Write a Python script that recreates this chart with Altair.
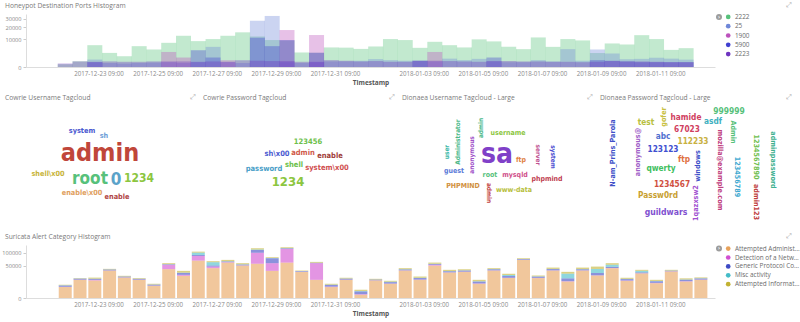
import altair as alt
import pandas as pd

# ---------------- data ----------------
ports = ["2222", "25", "1900", "5900", "2223"]
port_colors = ["#57c17b", "#6f87d8", "#bc52bc", "#3f3fd0", "#6e34c0"]
p2222 = [100, 420, 6100, 2550, 1490, 5570, 3930, 7490, 12500, 8590, 10000, 12500, 15400, 12000, 9300,
         9000, 2700, 2600, 4900, 4800, 4200, 5400, 10000, 9300, 4700, 8140, 6100, 4900, 9780, 8400,
         5200, 4080, 11200, 5200, 10000, 9060, 2500, 7100, 6500, 13000, 10000, 3760, 4550]
p25 = [0, 0, 710, 200, 150, 200, 250, 300, 200, 300, 5200, 300, 200, 27500, 33400,
       300, 200, 300, 400, 400, 500, 800, 600, 500, 500, 400, 900, 600, 850, 400,
       300, 300, 600, 400, 4080, 500, 3930, 2330, 770, 850, 1100, 900, 700]
p1900 = [0, 0, 0, 0, 0, 0, 0, 2900, 1150, 0, 0, 580, 0, 0, 0,
         17500, 0, 13100, 0, 0, 0, 0, 0, 0, 0, 2900, 0, 0, 0, 0,
         0, 0, 0, 0, 0, 0, 0, 0, 0, 0, 0, 0, 0]
p5900 = [0, 0, 300, 0, 0, 0, 0, 0, 0, 3600, 1150, 0, 0, 10900, 5570,
         9300, 0, 2600, 0, 0, 0, 0, 0, 0, 500, 0, 0, 0, 0, 1150,
         0, 0, 0, 0, 0, 0, 600, 500, 400, 300, 300, 300, 300]
p2223 = [150, 400, 350, 400, 350, 350, 400, 400, 400, 350, 400, 350, 580, 500, 450,
         450, 350, 350, 600, 500, 400, 450, 350, 350, 500, 500, 450, 400, 350, 450,
         450, 400, 400, 350, 350, 300, 350, 450, 400, 400, 350, 300, 300]

cats = ["Attempted Administrator Privilege Gain", "Detection of a Network Scan",
        "Generic Protocol Command Decode", "Misc activity", "Attempted Information Leak"]
cat_colors = ["#e7a15a", "#d14fd1", "#3d4ac4", "#44bcc8", "#c2b232"]
s_admin = [5800, 16000, 14900, 36500, 20300, 16000, 7250, 40300, 23800, 67700,
           43100, 60700, 50900, 56400, 35700, 60700, 33100, 16000, 5800, 16000,
           520, 15000, 9800, 36500, 16000, 50900, 31400, 33100, 9800, 36500,
           19200, 70300, 19200, 36500, 13200, 36500, 24500, 43100, 14300, 29300,
           10600, 34100, 13200, 16000]
s_scan = [300, 300, 1100, 300, 300, 300, 200, 12800, 2200, 18000,
          4700, 1500, 800, 43200, 23000, 55700, 300, 42700, 500, 300,
          200, 200, 300, 500, 500, 2500, 500, 500, 500, 500,
          500, 500, 500, 500, 500, 500, 500, 500, 500, 500,
          500, 500, 500, 500]
s_proto = [1500, 1800, 1800, 2500, 1700, 1500, 1200, 1800, 4500, 4100,
           3500, 2500, 2500, 12100, 17900, 3000, 1600, 1200, 2000, 1800,
           1400, 1200, 2100, 2500, 2800, 2500, 2800, 3000, 2800, 3000,
           3500, 2500, 2500, 3500, 5000, 3000, 5300, 3500, 2500, 2000,
           2500, 1500, 2500, 2000]
s_misc = [300, 300, 300, 300, 200, 200, 200, 500, 600, 9800,
          10800, 800, 800, 2000, 1000, 800, 300, 300, 300, 300,
          300, 200, 700, 600, 500, 800, 500, 500, 500, 500,
          2500, 500, 500, 500, 10000, 500, 10500, 6500, 500, 4000,
          500, 500, 500, 500]
s_leak = [600, 800, 2000, 1500, 1300, 1200, 950, 3300, 4600, 4400,
          3500, 4800, 3700, 6050, 2900, 4400, 1200, 2900, 1200, 1400,
          880, 1200, 1400, 3000, 2500, 4000, 3200, 2900, 2400, 2600,
          2600, 2800, 1800, 3800, 4400, 4300, 7000, 5100, 2000, 2600,
          1900, 1800, 2000, 1500]

tick_dates = [(2017, 12, 23), (2017, 12, 25), (2017, 12, 27), (2017, 12, 29), (2017, 12, 31),
              (2018, 1, 3), (2018, 1, 5), (2018, 1, 7), (2018, 1, 9), (2018, 1, 11)]

# tag clouds: words, counts, colours, rotation, layout position (page pixels)
cu_words = ["admin", "root", "0", "1234", "system", "sh", "shell\\x00", "enable\\x00", "enable"]
cu_counts = [100, 68, 68, 48, 29, 29, 29, 29, 29]
cu_colors = ["#c0463a", "#57c17b", "#5ba3c9", "#8cc63f", "#4a58d0", "#6f9fd8", "#c8b43a", "#e0a060", "#b04444"]
cu_rot = [0, 0, 0, 0, 0, 0, 0, 0, 0]
cu_x = [100, 90, 116, 139, 82, 104, 48, 82, 117]
cu_y = [153, 179, 180, 178, 131, 136, 174, 193, 197]

cp_words = ["1234", "123456", "sh\\x00", "admin", "enable", "password", "shell", "system\\x00"]
cp_counts = [100, 58, 58, 58, 58, 58, 58, 58]
cp_colors = ["#8cc63f", "#6cc04a", "#4a5ad0", "#d05a4a", "#a0403a", "#4aa0c8", "#6cc04a", "#d05050"]
cp_rot = [0, 0, 0, 0, 0, 0, 0, 0]
cp_x = [288, 308, 277, 303, 330, 264, 294, 327]
cp_y = [182, 142, 154, 153, 156, 169, 165, 168]

du_words = ["sa", "user", "Administrator", "admin", "username", "anonymous", "guest", "root",
            "mysqld", "ftp", "server", "system", "phpmind", "PHPMIND", "admin ", "www-data"]
du_counts = [100, 23, 23, 23, 25, 23, 25, 25, 25, 25, 23, 23, 25, 25, 23, 25]
du_colors = ["#8040c8", "#3cb8a8", "#4cb888", "#4cb888", "#8cc63f", "#a050c8", "#5a7ad8", "#57c17b",
             "#d0508a", "#e08040", "#c05090", "#4a4ad0", "#c04050", "#d09040", "#c04040", "#b8c040"]
du_rot = [0, 270, 270, 270, 0, 270, 0, 0, 0, 0, 90, 90, 0, 0, 90, 0]
du_x = [497, 447, 458, 481, 508, 472, 454, 490, 515, 521, 538, 553, 547, 463, 489, 514]
du_y = [155, 152, 142, 128, 133, 155, 171, 175, 175, 160, 155, 157, 179, 186, 193, 190]

dp_words = ["999999", "gofer", "hamide", "test", "asdf", "Admin", "67023", "abc", "N-am_Prins_Parola",
            "anonymous@", "112233", "mozilla@example.com", "1234567890", "123123", "adminpassword",
            "123456789", "windows", "ftp", "qwerty", "1234567", "Passw0rd", "1qazxsw2", "admin123",
            "guildwars"]
dp_counts = [96, 82, 94, 94, 94, 82, 94, 94, 82, 82, 94, 82, 82, 94, 82, 82, 82, 94, 94, 94, 94, 82, 82, 98]
dp_colors = ["#57c17b", "#c8c040", "#d04060", "#b8c040", "#40b0c0", "#57c17b", "#d04060", "#5070d0",
             "#4050c8", "#a060c8", "#c8b040", "#c04080", "#70c050", "#4050d0", "#40b090", "#40a8d0",
             "#4050c8", "#e07040", "#40c060", "#d05040", "#c8a030", "#a050d0", "#c04040", "#8050d0"]
dp_rot = [0, 270, 0, 0, 0, 90, 0, 0, 270, 270, 0, 90, 90, 0, 90, 90, 270, 0, 0, 0, 0, 270, 90, 0]
dp_x = [729, 664, 686, 646, 713, 733, 687, 663, 613, 638, 693, 720, 756, 663, 773, 737, 698, 684,
        661, 672, 658, 696, 756, 666]
dp_y = [111, 117, 118, 123, 122, 132, 130, 137, 153, 152, 142, 170, 157, 150, 160, 177, 166, 160,
        169, 185, 196, 203, 202, 212]

panel_titles = ["Honeypot Destination Ports Histogram", "Cowrie Username Tagcloud",
                "Cowrie Password Tagcloud", "Dionaea Username Tagcloud - Large",
                "Dionaea Password Tagcloud - Large", "Suricata Alert Category Histogram"]

# ---------------- layout (pixels) ----------------
W, H = 800, 322
PLOT_X = [26, 715]
TOP_Y = [67, 14]
BOT_Y = [298, 245]
title_x = [5, 5, 203, 402, 600, 5]
title_y = [5.5, 97.5, 97.5, 97.5, 97.5, 236.5]
expand_x = [789, 193, 392, 590, 789, 789]
expand_y = [5, 97, 97, 97, 97, 236]
toggle_x = [719, 719]
toggle_y = [17, 248.5]

# ---------------- tables ----------------
buckets = pd.date_range("2017-12-22 00:00", periods=44, freq="12h")
mid = buckets + pd.Timedelta(hours=6)

top_rows = []
for k, (name, vals) in enumerate(zip(ports, [p2222, p25, p1900, p5900, p2223])):
    for i, v in enumerate(vals):
        top_rows.append({"t": mid[i], "port": name, "count": v, "k": k})
top_df = pd.DataFrame(top_rows)

bot_rows = []
for k, (name, vals) in enumerate(zip(cats, [s_admin, s_scan, s_proto, s_misc, s_leak])):
    for i, v in enumerate(vals):
        bot_rows.append({"t": mid[i], "cat": name, "count": v, "k": k})
bot_df = pd.DataFrame(bot_rows)

FONT = "Open Sans"
CLOUD_FONT = "Liberation Sans Narrow, DejaVu Sans Condensed, Roboto, sans-serif"
TITLE_COLOR = "#7a7a7a"

xscale = alt.Scale(domain=[alt.DateTime(year=2017, month=12, date=21, hours=2, minutes=12),
                           alt.DateTime(year=2018, month=1, date=13, hours=1, minutes=24)],
                   range=PLOT_X)
tick_vals = [alt.DateTime(year=y, month=m, date=d, hours=9) for (y, m, d) in tick_dates]
px_x = alt.Scale(domain=[0, W], range=[0, W])
px_y = alt.Scale(domain=[0, H], range=[0, H])


def xaxis(base_y):
    return alt.Axis(orient="bottom", offset=base_y - H, values=tick_vals, format="%Y-%m-%d %H:%M",
                    ticks=False, labelPadding=3, title="Timestamp", titleFontWeight="bold",
                    titleFontSize=6.5, titleColor="#555555", titlePadding=3, labelFontSize=6.2,
                    labelColor="#8a8a8a", grid=False, domainColor="#dddddd", labelFlush=False,
                    labelFont=FONT, titleFont=FONT)


def yaxis(vals):
    return alt.Axis(orient="left", offset=-PLOT_X[0], values=vals, format="d", title=None, grid=False,
                    labelFontSize=5.6, labelColor="#8a8a8a", tickSize=3, tickColor="#cccccc",
                    domainColor="#dddddd", labelPadding=2, labelFont=FONT)


def legend(ly, row_pad):
    return alt.Legend(title=None, orient="none", legendX=725, legendY=ly, symbolType="circle",
                      symbolSize=22, symbolOpacity=1, labelFontSize=6.4, labelColor="#6a6a6a",
                      rowPadding=row_pad, padding=0, labelLimit=66, symbolStrokeWidth=0,
                      labelOffset=3.5, labelFont=FONT)


top = alt.Chart(top_df).mark_bar(width=15, opacity=0.36).encode(
    x=alt.X("t:T", scale=xscale, axis=xaxis(TOP_Y[0])),
    y=alt.Y("count:Q", stack=None,
            scale=alt.Scale(type="sqrt", domain=[0, 36000], nice=False, range=TOP_Y),
            axis=yaxis([0, 10000, 20000, 30000])),
    color=alt.Color("port:N", scale=alt.Scale(domain=ports, range=port_colors), legend=legend(13.7, 2.3)),
    order=alt.Order("k:Q"),
)

bottom = alt.Chart(bot_df).mark_bar(width=13, opacity=0.6).encode(
    x=alt.X("t:T", scale=xscale, axis=xaxis(BOT_Y[0])),
    y=alt.Y("count:Q", stack="zero",
            scale=alt.Scale(type="sqrt", domain=[0, 136000], nice=False, range=BOT_Y),
            axis=yaxis([0, 50000, 100000])),
    color=alt.Color("cat:N", scale=alt.Scale(domain=cats, range=cat_colors), legend=legend(245.4, 1.9)),
    order=alt.Order("k:Q", sort="ascending"),
)


def cloud(words, counts, colors, rot, xs, ys, maxfont):
    keys = [f"{i}:{w}" for i, w in enumerate(words)]
    df = pd.DataFrame({"key": keys, "word": words, "count": counts, "rot": rot, "px": xs, "py": ys})
    return alt.Chart(df).mark_text(font=CLOUD_FONT, fontWeight="bold", align="center",
                                   baseline="middle").encode(
        x=alt.X("px:Q", scale=px_x, axis=None),
        y=alt.Y("py:Q", scale=px_y, axis=None),
        text="word:N",
        size=alt.Size("count:Q", scale=alt.Scale(domain=[0, max(counts)], range=[0, maxfont]), legend=None),
        color=alt.Color("key:N", scale=alt.Scale(domain=keys, range=colors), legend=None),
        angle=alt.Angle("rot:Q", scale=alt.Scale(domain=[0, 360], range=[0, 360]), legend=None),
    )


c1 = cloud(cu_words, cu_counts, cu_colors, cu_rot, cu_x, cu_y, 25)
c2 = cloud(cp_words, cp_counts, cp_colors, cp_rot, cp_x, cp_y, 13)
c3 = cloud(du_words, du_counts, du_colors, du_rot, du_x, du_y, 28)
c4 = cloud(dp_words, dp_counts, dp_colors, dp_rot, dp_x, dp_y, 8.6)

titles_df = pd.DataFrame({"title": panel_titles, "tx": title_x, "ty": title_y})
titles = alt.Chart(titles_df).mark_text(align="left", baseline="middle", font=FONT, fontSize=6.7,
                                        color=TITLE_COLOR).encode(
    x=alt.X("tx:Q", scale=px_x, axis=None),
    y=alt.Y("ty:Q", scale=px_y, axis=None),
    text="title:N",
)

icons_df = pd.DataFrame({"ix": expand_x, "iy": expand_y})
expand = alt.Chart(icons_df).mark_text(text="\u2922", font="DejaVu Sans", fontSize=7,
                                       color="#aaaaaa", align="center", baseline="middle").encode(
    x=alt.X("ix:Q", scale=px_x, axis=None),
    y=alt.Y("iy:Q", scale=px_y, axis=None),
)

toggles_df = pd.DataFrame({"gx": toggle_x, "gy": toggle_y})
toggle_dot = alt.Chart(toggles_df).mark_circle(size=36, color="#9c9c9c", opacity=1).encode(
    x=alt.X("gx:Q", scale=px_x, axis=None),
    y=alt.Y("gy:Q", scale=px_y, axis=None),
)
toggle_chev = alt.Chart(toggles_df).mark_text(text="\u203a", font="DejaVu Sans", fontSize=6,
                                              fontWeight="bold", color="white", align="center",
                                              baseline="middle", dy=-0.5).encode(
    x=alt.X("gx:Q", scale=px_x, axis=None),
    y=alt.Y("gy:Q", scale=px_y, axis=None),
)

chart = alt.layer(top, bottom, c1, c2, c3, c4, titles, expand, toggle_dot, toggle_chev).resolve_scale(
    x="independent", y="independent", color="independent", size="independent", angle="independent"
).properties(
    width=W, height=H, autosize=alt.AutoSizeParams(type="none"), padding=0
).configure(background="white", font=FONT).configure_view(stroke=None)

chart.save("out.html", embed_options={"renderer": "svg", "actions": False})
